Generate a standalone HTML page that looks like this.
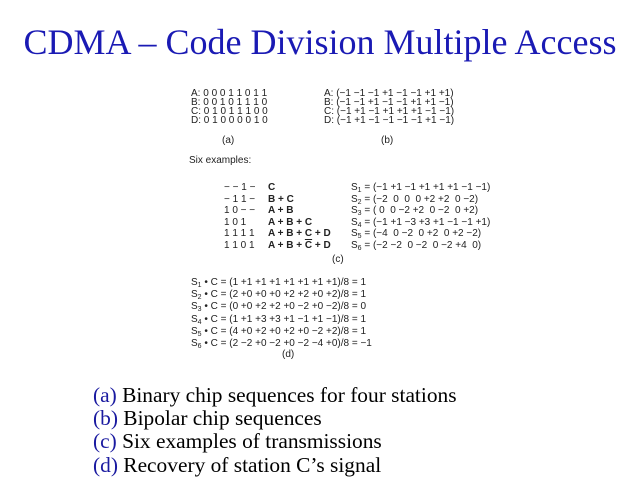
<!DOCTYPE html>
<html><head><style>
body{margin:0;width:640px;height:480px;background:#fff;position:relative;overflow:hidden;font-family:"Liberation Sans",sans-serif;}
.t{position:absolute;font-size:10px;line-height:9px;white-space:pre;color:#222;}
.b{font-weight:bold}
.s{font-size:7px;position:relative;top:2px;line-height:0}
.cap{position:absolute;left:93px;font-family:"Liberation Serif",serif;font-size:21.4px;line-height:22px;white-space:pre;color:#000;}
.cap span{color:#1a1aa0}
</style></head><body>
<div style="position:absolute;left:0;width:640px;top:21px;text-align:center;font-family:'Liberation Serif',serif;font-size:36px;line-height:42px;color:#1a1ab4;">CDMA – Code Division Multiple Access</div>

<div class="t" style="left:191px;top:89px">A: 0 0 0 1 1 0 1 1
B: 0 0 1 0 1 1 1 0
C: 0 1 0 1 1 1 0 0
D: 0 1 0 0 0 0 1 0</div>
<div class="t" style="left:222px;top:136px">(a)</div>
<div class="t" style="left:324px;top:89px">A: (−1 −1 −1 +1 −1 −1 +1 +1)
B: (−1 −1 +1 −1 −1 +1 +1 −1)
C: (−1 +1 −1 +1 +1 +1 −1 −1)
D: (−1 +1 −1 −1 −1 −1 +1 −1)</div>
<div class="t" style="left:381px;top:136px">(b)</div>
<div class="t" style="left:189px;top:156px">Six examples:</div>

<div class="t" style="left:224px;top:182px;line-height:11.6px">− − 1 −
− 1 1 −
1 0 − −
1 0 1
1 1 1 1
1 1 0 1</div>
<div class="t b" style="left:268px;top:182px;line-height:11.6px">C
B + C
A + B
A + B + C
A + B + C + D
A + B + <span style="text-decoration:overline">C</span> + D</div>
<div class="t" style="left:351px;top:182px;line-height:11.6px">S<span class="s">1</span> = (−1 +1 −1 +1 +1 +1 −1 −1)
S<span class="s">2</span> = (−2  0  0  0 +2 +2  0 −2)
S<span class="s">3</span> = ( 0  0 −2 +2  0 −2  0 +2)
S<span class="s">4</span> = (−1 +1 −3 +3 +1 −1 −1 +1)
S<span class="s">5</span> = (−4  0 −2  0 +2  0 +2 −2)
S<span class="s">6</span> = (−2 −2  0 −2  0 −2 +4  0)</div>
<div class="t" style="left:332px;top:255px">(c)</div>

<div class="t" style="left:191px;top:277px;line-height:12.2px">S<span class="s">1</span> • C = (1 +1 +1 +1 +1 +1 +1 +1)/8 = 1
S<span class="s">2</span> • C = (2 +0 +0 +0 +2 +2 +0 +2)/8 = 1
S<span class="s">3</span> • C = (0 +0 +2 +2 +0 −2 +0 −2)/8 = 0
S<span class="s">4</span> • C = (1 +1 +3 +3 +1 −1 +1 −1)/8 = 1
S<span class="s">5</span> • C = (4 +0 +2 +0 +2 +0 −2 +2)/8 = 1
S<span class="s">6</span> • C = (2 −2 +0 −2 +0 −2 −4 +0)/8 = −1</div>
<div class="t" style="left:282px;top:350px">(d)</div>

<div class="cap" style="top:384px"><span>(a)</span> Binary chip sequences for four stations</div>
<div class="cap" style="top:407px"><span>(b)</span> Bipolar chip sequences</div>
<div class="cap" style="top:430px"><span>(c)</span> Six examples of transmissions</div>
<div class="cap" style="top:454px"><span>(d)</span> Recovery of station C’s signal</div>
</body></html>
